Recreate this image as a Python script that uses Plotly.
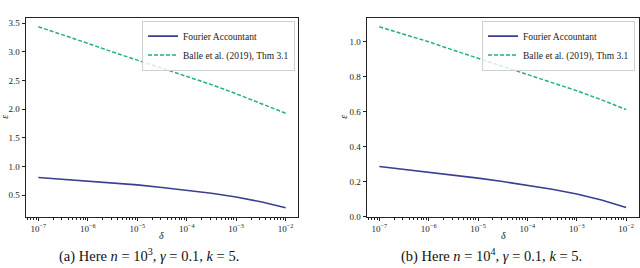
import plotly.graph_objects as go

# ---- data ----
delta = [1e-7, 3.16e-7, 1e-6, 3.16e-6, 1e-5, 3.16e-5, 1e-4, 3.16e-4, 1e-3, 3.16e-3, 1e-2]

fourier_a = [0.81, 0.78, 0.745, 0.71, 0.68, 0.635, 0.59, 0.535, 0.47, 0.385, 0.28]
balle_a = [3.44, 3.30, 3.15, 3.00, 2.86, 2.72, 2.58, 2.43, 2.27, 2.10, 1.93]

fourier_b = [0.286, 0.27, 0.254, 0.237, 0.22, 0.20, 0.18, 0.156, 0.129, 0.095, 0.052]
balle_b = [1.086, 1.043, 1.0, 0.952, 0.905, 0.86, 0.815, 0.768, 0.72, 0.668, 0.612]

x_tickvals = [1e-7, 1e-6, 1e-5, 1e-4, 1e-3, 1e-2]
x_ticktext = ["10<sup>−7</sup>", "10<sup>−6</sup>", "10<sup>−5</sup>",
              "10<sup>−4</sup>", "10<sup>−3</sup>", "10<sup>−2</sup>"]
ya_tickvals = [0.5, 1.0, 1.5, 2.0, 2.5, 3.0, 3.5]
ya_ticktext = ["0.5", "1.0", "1.5", "2.0", "2.5", "3.0", "3.5"]
yb_tickvals = [0.0, 0.2, 0.4, 0.6, 0.8, 1.0]
yb_ticktext = ["0.0", "0.2", "0.4", "0.6", "0.8", "1.0"]

names = ["Fourier Accountant", "Balle et al. (2019), Thm 3.1"]
captions = ["(a) Here <i>n</i> = 10<sup>3</sup>, <i>γ</i> = 0.1, <i>k</i> = 5.",
            "(b) Here <i>n</i> = 10<sup>4</sup>, <i>γ</i> = 0.1, <i>k</i> = 5."]

# ---- style ----
FONT = "Liberation Serif"
C_F = "#3b3f8f"
C_B = "#25b07e"
W, H = 640, 268

minor_vals = [m * 10.0 ** e for e in range(-8, -1) for m in range(2, 10)]

fig = go.Figure()

for i, (f, b) in enumerate([(fourier_a, balle_a), (fourier_b, balle_b)]):
    xa = "x" if i == 0 else "x2"
    ya = "y" if i == 0 else "y2"
    lg = "legend" if i == 0 else "legend2"
    fig.add_trace(go.Scatter(x=delta, y=f, mode="lines", name=names[0],
                             line=dict(color=C_F, width=1.6),
                             xaxis=xa, yaxis=ya, legend=lg))
    fig.add_trace(go.Scatter(x=delta, y=b, mode="lines", name=names[1],
                             line=dict(color=C_B, width=1.5, dash="4px,2px"),
                             xaxis=xa, yaxis=ya, legend=lg))

def px_x(p):
    return p / W

def px_y(p):
    return 1 - p / H

axis_common = dict(showline=True, mirror=True, linecolor="#222", linewidth=1,
                   ticks="outside", ticklen=3.5, tickwidth=0.8, tickcolor="#222",
                   showgrid=False, zeroline=False,
                   tickfont=dict(family=FONT, size=9, color="#222"))

xaxis_common = dict(axis_common, type="log", range=[-7.25, -1.75],
                    tickvals=x_tickvals, ticktext=x_ticktext,
                    minor=dict(ticks="outside", ticklen=2, tickwidth=0.6,
                               tickcolor="#222", tickvals=minor_vals, showgrid=False))

legend_common = dict(xanchor="right", yanchor="top",
                     bgcolor="rgba(255,255,255,0.8)", bordercolor="#d0d0d0", borderwidth=1,
                     font=dict(family=FONT, size=9.5, color="#222"),
                     tracegroupgap=0, itemwidth=30)

fig.update_layout(
    width=W, height=H,
    margin=dict(l=0, r=0, t=0, b=0),
    paper_bgcolor="white", plot_bgcolor="white",
    font=dict(family=FONT, color="#222"),
    xaxis=dict(xaxis_common, domain=[px_x(26), px_x(298)], anchor="y"),
    yaxis=dict(axis_common, domain=[px_y(221), px_y(18)], anchor="x",
               range=[0.122, 3.598], tickvals=ya_tickvals, ticktext=ya_ticktext),
    xaxis2=dict(xaxis_common, domain=[px_x(367), px_x(638.5)], anchor="y2"),
    yaxis2=dict(axis_common, domain=[px_y(221), px_y(18)], anchor="x2",
                range=[-0.002, 1.138], tickvals=yb_tickvals, ticktext=yb_ticktext),
    legend=dict(legend_common, x=px_x(295), y=px_y(21)),
    legend2=dict(legend_common, x=px_x(635), y=px_y(21)),
)

ann = []
# axis labels
for xc in [px_x(161), px_x(503)]:
    ann.append(dict(text="<i>δ</i>", x=xc, y=px_y(240), xref="paper", yref="paper",
                    xanchor="center", yanchor="middle", showarrow=False,
                    font=dict(family=FONT, size=10, color="#222")))
for xc in [px_x(5), px_x(344)]:
    ann.append(dict(text="<i>ε</i>", x=xc, y=px_y(119), xref="paper", yref="paper",
                    xanchor="center", yanchor="middle", showarrow=False, textangle=-90,
                    font=dict(family=FONT, size=10, color="#222")))
# captions
for xc, cap in zip([px_x(148.5), px_x(491)], captions):
    ann.append(dict(text=cap, x=xc, y=px_y(260), xref="paper", yref="paper",
                    xanchor="center", yanchor="middle", showarrow=False,
                    font=dict(family=FONT, size=14.5, color="#111")))
fig.update_layout(annotations=ann)

fig.write_html("out.html", config={"displayModeBar": False},
               post_script="document.body.style.margin='0';document.body.style.overflow='hidden';")
